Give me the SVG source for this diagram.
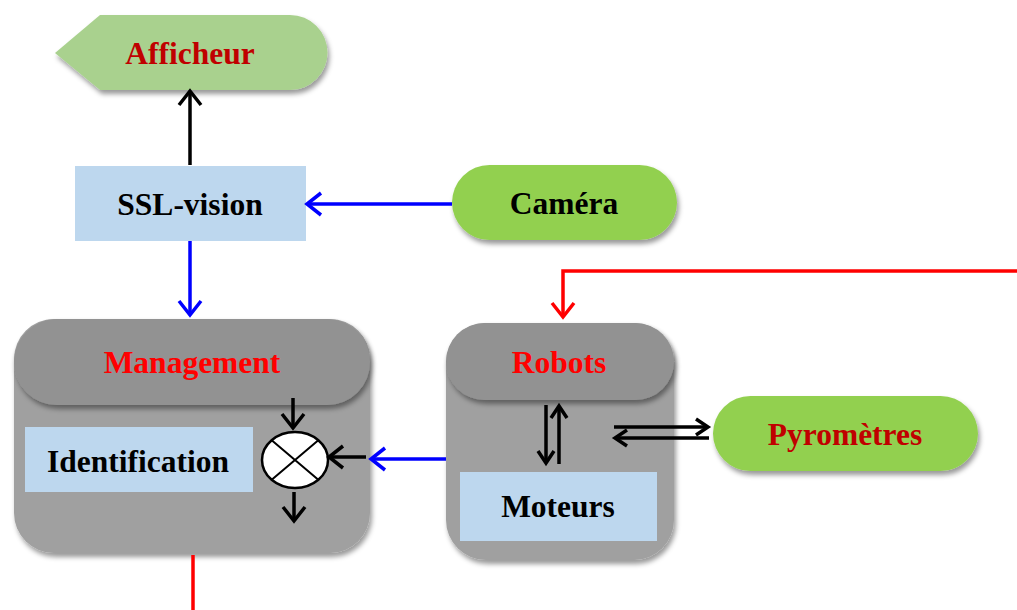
<svg xmlns="http://www.w3.org/2000/svg" width="1017" height="610" viewBox="0 0 1017 610">
<style>
text{font-family:"Liberation Serif","Times New Roman",serif;font-weight:bold;font-size:31.5px;text-anchor:middle}
.dark{fill:#c00000}.red{fill:#ff0000}.blk{fill:#000}
.blue{fill:#bdd7ee}.green{fill:#92d050}
.box{fill:#a0a0a0}.pill{fill:#929292}
.ln{fill:none;stroke-width:3.5}
.k{stroke:#000}.b{stroke:#0000ff}.r{stroke:#ff0000}
.hd{fill:none;stroke-width:3.5;stroke-linejoin:miter;stroke-miterlimit:10}
</style>
<defs>
<filter id="sh" x="-10%" y="-10%" width="125%" height="130%">
<feDropShadow dx="2" dy="4" stdDeviation="2.5" flood-color="#000" flood-opacity="0.4"/>
</filter>
<marker id="ak" viewBox="-20 -15 24 30" markerWidth="24" markerHeight="30" refX="-2" refY="0" orient="auto" markerUnits="userSpaceOnUse">
<path d="M-15,-11 L-1,0 L-15,11" class="hd" stroke="#000"/>
</marker>
<marker id="ab" viewBox="-20 -15 24 30" markerWidth="24" markerHeight="30" refX="-2" refY="0" orient="auto" markerUnits="userSpaceOnUse">
<path d="M-15,-11 L-1,0 L-15,11" class="hd" stroke="#0000ff"/>
</marker>
<marker id="ar" viewBox="-20 -15 24 30" markerWidth="24" markerHeight="30" refX="-2" refY="0" orient="auto" markerUnits="userSpaceOnUse">
<path d="M-15,-11 L-1,0 L-15,11" class="hd" stroke="#ff0000"/>
</marker>
<marker id="as" viewBox="-20 -15 24 30" markerWidth="24" markerHeight="30" refX="-2" refY="0" orient="auto" markerUnits="userSpaceOnUse">
<path d="M-13,-8 L-1,0 L-13,8" class="hd" stroke="#000"/>
</marker>
</defs>

<g id="afficheur">
<path d="M55,53 L100,15 L290,15 A37.5,37.5 0 0 1 290,90 L100,90 Z" fill="#a9d18e" filter="url(#sh)"/>
<text x="190" y="64" class="dark">Afficheur</text>
</g>

<g id="ssl-vision">
<rect x="75" y="166" width="231" height="75" class="blue"/>
<text x="190" y="215" class="blk">SSL-vision</text>
</g>

<g id="camera">
<rect x="452" y="165" width="225" height="75" rx="37.5" class="green" filter="url(#sh)"/>
<text x="564" y="214" class="blk">Caméra</text>
</g>

<g id="management">
<rect x="14" y="319" width="356" height="234" rx="40" class="box" filter="url(#sh)"/>
<rect x="14" y="319" width="356" height="86" rx="43" class="pill" filter="url(#sh)"/>
<text x="192" y="373" class="red">Management</text>
</g>

<g id="identification">
<rect x="25" y="427" width="228" height="65" class="blue"/>
<text x="138" y="472" class="blk">Identification</text>
</g>

<g id="multiplier">
<ellipse cx="295" cy="460" rx="33" ry="28" fill="#fff" stroke="#000" stroke-width="2.5"/>
<path d="M271.7,440.2 L318.3,479.8 M318.3,440.2 L271.7,479.8" stroke="#000" stroke-width="2"/>
</g>

<g id="robots">
<rect x="446" y="323" width="228" height="237" rx="40" class="box" filter="url(#sh)"/>
<rect x="446" y="323" width="228" height="77" rx="38.5" class="pill" filter="url(#sh)"/>
<text x="559" y="373" class="red">Robots</text>
</g>

<g id="moteurs">
<rect x="460" y="472" width="197" height="69" class="blue"/>
<text x="558" y="517" class="blk">Moteurs</text>
</g>

<g id="pyrometres">
<rect x="713" y="396" width="265" height="75" rx="37.5" class="green" filter="url(#sh)"/>
<text x="845" y="445" class="dark">Pyromètres</text>
</g>

<g id="connectors">
<line x1="190" y1="165" x2="190" y2="92" class="ln k" marker-end="url(#ak)"/>
<line x1="452" y1="204" x2="308" y2="204" class="ln b" marker-end="url(#ab)"/>
<line x1="190" y1="241" x2="190" y2="314" class="ln b" marker-end="url(#ab)"/>
<polyline points="1017,271 563,271 563,316" class="ln r" marker-end="url(#ar)"/>
<line x1="446" y1="459" x2="372" y2="459" class="ln b" marker-end="url(#ab)"/>
<line x1="193" y1="555" x2="193" y2="610" class="ln r"/>
<line x1="293" y1="398" x2="293" y2="427" class="ln k" marker-end="url(#ak)"/>
<line x1="366" y1="457" x2="330" y2="457" class="ln k" marker-end="url(#ak)"/>
<line x1="294" y1="492" x2="294" y2="520" class="ln k" marker-end="url(#ak)"/>
<line x1="546" y1="405" x2="546" y2="462" class="ln k" marker-end="url(#as)"/>
<line x1="559" y1="464" x2="559" y2="407" class="ln k" marker-end="url(#as)"/>
<line x1="614" y1="427" x2="707" y2="427" class="ln k" marker-end="url(#as)"/>
<line x1="709" y1="438" x2="616" y2="438" class="ln k" marker-end="url(#as)"/>
</g>
</svg>
